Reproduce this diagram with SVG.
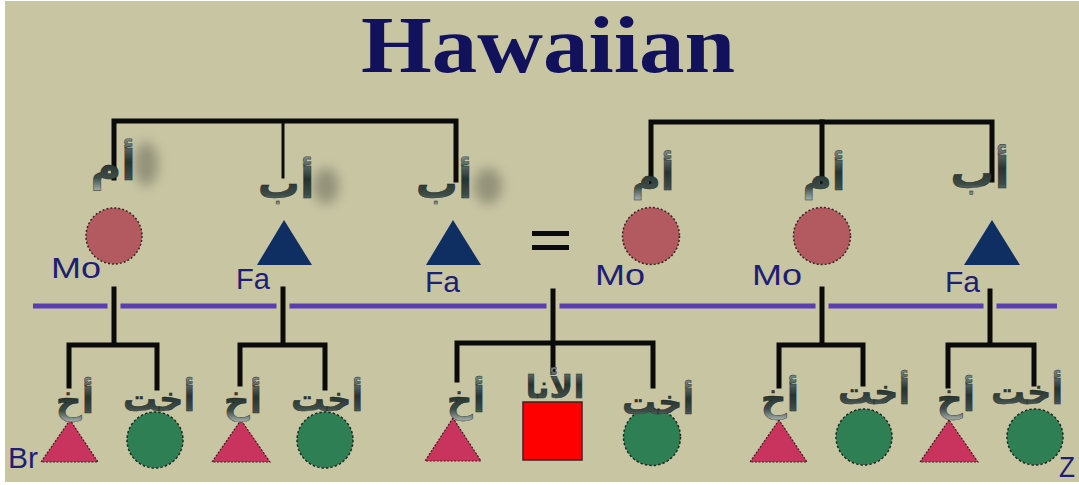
<svg xmlns="http://www.w3.org/2000/svg" width="1079" height="485" viewBox="0 0 1079 485">
<defs>
<linearGradient id="metal" x1="0" y1="0" x2="0" y2="1">
<stop offset="0" stop-color="#7d8c8a"/>
<stop offset="0.45" stop-color="#26332f"/>
<stop offset="0.75" stop-color="#3e4c48"/>
<stop offset="1" stop-color="#a7b2ad"/>
</linearGradient>
<filter id="blur" x="-80%" y="-80%" width="260%" height="260%"><feGaussianBlur stdDeviation="6"/></filter>
</defs>
<style>
.bg{fill:#c8c5a3}
.title{font-family:"Liberation Serif",serif;font-weight:bold;font-size:80px;fill:#12125c}
.lbl{font-family:"Liberation Sans",Arial,sans-serif;font-size:30px;fill:#1e1e74}
.ar{font-family:"DejaVu Sans",sans-serif;font-weight:bold;fill:url(#metal);stroke:#1a2422;stroke-width:0.4}
.ln{stroke:#0b0b0b;fill:none;stroke-linecap:square}
.halo{stroke:#c8c5a3;stroke-width:13}
.gen{stroke:#5a3db0;stroke-width:5}
.mo{fill:#b25a60;stroke:#3a2424;stroke-width:1.5;stroke-dasharray:2 2}
.sis{fill:#2f7f55;stroke:#1e2a20;stroke-width:1.5;stroke-dasharray:2.5 2}
.fa{fill:#0f2f62}
.br{fill:#c8345e;stroke:#3a2020;stroke-width:1.2;stroke-dasharray:2 1.5}
.ego{fill:#ff0000;stroke:#402020;stroke-width:1.5}
.shadow{fill:#55574a;opacity:0.45;filter:url(#blur)}
</style>
<rect x="0" y="0" width="1079" height="485" fill="#ffffff"/>
<rect class="bg" x="5" y="1" width="1074" height="481"/>
<text class="title" x="548" y="72" text-anchor="middle" textLength="374" lengthAdjust="spacingAndGlyphs">Hawaiian</text>

<g id="connectors">
<line class="gen" x1="33" y1="306" x2="1057" y2="306"/>
<g class="halo">
<line x1="114" y1="300" x2="114" y2="312"/>
<line x1="283" y1="300" x2="283" y2="312"/>
<line x1="553" y1="300" x2="553" y2="312"/>
<line x1="822" y1="300" x2="822" y2="312"/>
<line x1="990" y1="300" x2="990" y2="312"/>
</g>
<path class="ln" stroke-width="5" d="M114 178 V121 H456 V180"/>
<path class="ln" stroke-width="3" d="M283 121 V177"/>
<path class="ln" stroke-width="5" d="M651 184 V122 H992 V180"/>
<path class="ln" stroke-width="5" d="M822 122 V182"/>
<path class="ln" stroke-width="5" d="M114 289 V345 M69 386 V345 H157 V388"/>
<path class="ln" stroke-width="5" d="M283 289 V345 M240 384 V345 H325 V388"/>
<path class="ln" stroke-width="5" d="M553 291 V372 M457 380 V343 H653 V386"/>
<path class="ln" stroke-width="5" d="M822 289 V345 M779 386 V345 H863 V384"/>
<path class="ln" stroke-width="5" d="M990 291 V345 M948 386 V345 H1034 V384"/>
</g>

<g id="eq"><rect x="532" y="231" width="37" height="5" fill="#0b0b0b"/><rect x="532" y="245" width="37" height="5" fill="#0b0b0b"/></g>

<g id="mo-l1"><circle class="mo" cx="114" cy="236" r="28"/><text class="lbl" x="51" y="278" textLength="50" lengthAdjust="spacingAndGlyphs">Mo</text><ellipse class="shadow" cx="146" cy="164" rx="12" ry="22"/><text class="ar" x="113" y="180" font-size="42" text-anchor="middle">أم</text></g>
<g id="fa-l2"><polygon class="fa" points="284,220 257,265 312,265"/><text class="lbl" x="236" y="289" textLength="34" lengthAdjust="spacingAndGlyphs">Fa</text><ellipse class="shadow" cx="326" cy="186" rx="13" ry="18"/><text class="ar" x="286" y="198" font-size="42" text-anchor="middle">أب</text></g>
<g id="fa-l3"><polygon class="fa" points="453,220 426,265 481,265"/><text class="lbl" x="425" y="292" textLength="35" lengthAdjust="spacingAndGlyphs">Fa</text><ellipse class="shadow" cx="488" cy="186" rx="14" ry="18"/><text class="ar" x="444" y="198" font-size="42" text-anchor="middle">أب</text></g>
<g id="mo-r1"><circle class="mo" cx="651" cy="236" r="28.5"/><text class="lbl" x="595" y="285" textLength="50" lengthAdjust="spacingAndGlyphs">Mo</text><text class="ar" x="653" y="190" font-size="40" text-anchor="middle">أم</text></g>
<g id="mo-r2"><circle class="mo" cx="822" cy="236" r="28.5"/><text class="lbl" x="752" y="285" textLength="50" lengthAdjust="spacingAndGlyphs">Mo</text><text class="ar" x="824" y="190" font-size="40" text-anchor="middle">أم</text></g>
<g id="fa-r3"><polygon class="fa" points="992,220 964,265 1020,265"/><text class="lbl" x="945" y="292" textLength="35" lengthAdjust="spacingAndGlyphs">Fa</text><text class="ar" x="980" y="188" font-size="44" text-anchor="middle">أب</text></g>

<g id="br-a"><polygon class="br" points="70,420 41,462 98,462"/><text class="lbl" x="8" y="468" font-size="25" textLength="30" lengthAdjust="spacingAndGlyphs">Br</text><text class="ar" x="75" y="413" font-size="36" text-anchor="middle">أخ</text></g>
<g id="si-a"><circle class="sis" cx="155" cy="440" r="28"/><text class="ar" x="159" y="411" font-size="34" text-anchor="middle">أخت</text></g>
<g id="br-b"><polygon class="br" points="241,420 212,462 270,462"/><text class="ar" x="243" y="413" font-size="36" text-anchor="middle">أخ</text></g>
<g id="si-b"><circle class="sis" cx="325" cy="440" r="28"/><text class="ar" x="327" y="411" font-size="34" text-anchor="middle">أخت</text></g>
<g id="br-c"><polygon class="br" points="453,418 425,461 481,461"/><text class="ar" x="466" y="412" font-size="36" text-anchor="middle">أخ</text></g>
<g id="ego"><rect class="ego" x="523" y="402" width="59" height="58"/><text class="ar" x="555" y="398" font-size="32" text-anchor="middle">الأنا</text></g>
<g id="si-c"><circle class="sis" cx="652" cy="437" r="28.5"/><text class="ar" x="658" y="414" font-size="34" text-anchor="middle">أخت</text></g>
<g id="br-d"><polygon class="br" points="779,420 750,462 807,462"/><text class="ar" x="780" y="411" font-size="36" text-anchor="middle">أخ</text></g>
<g id="si-d"><circle class="sis" cx="864" cy="437" r="28"/><text class="ar" x="874" y="404" font-size="34" text-anchor="middle">أخت</text></g>
<g id="br-e"><polygon class="br" points="949,420 920,462 978,462"/><text class="ar" x="956" y="411" font-size="36" text-anchor="middle">أخ</text></g>
<g id="si-e"><circle class="sis" cx="1035" cy="437" r="28"/><text class="ar" x="1027" y="404" font-size="34" text-anchor="middle">أخت</text><text class="lbl" x="1059" y="477" textLength="16" lengthAdjust="spacingAndGlyphs">Z</text></g>
</svg>
